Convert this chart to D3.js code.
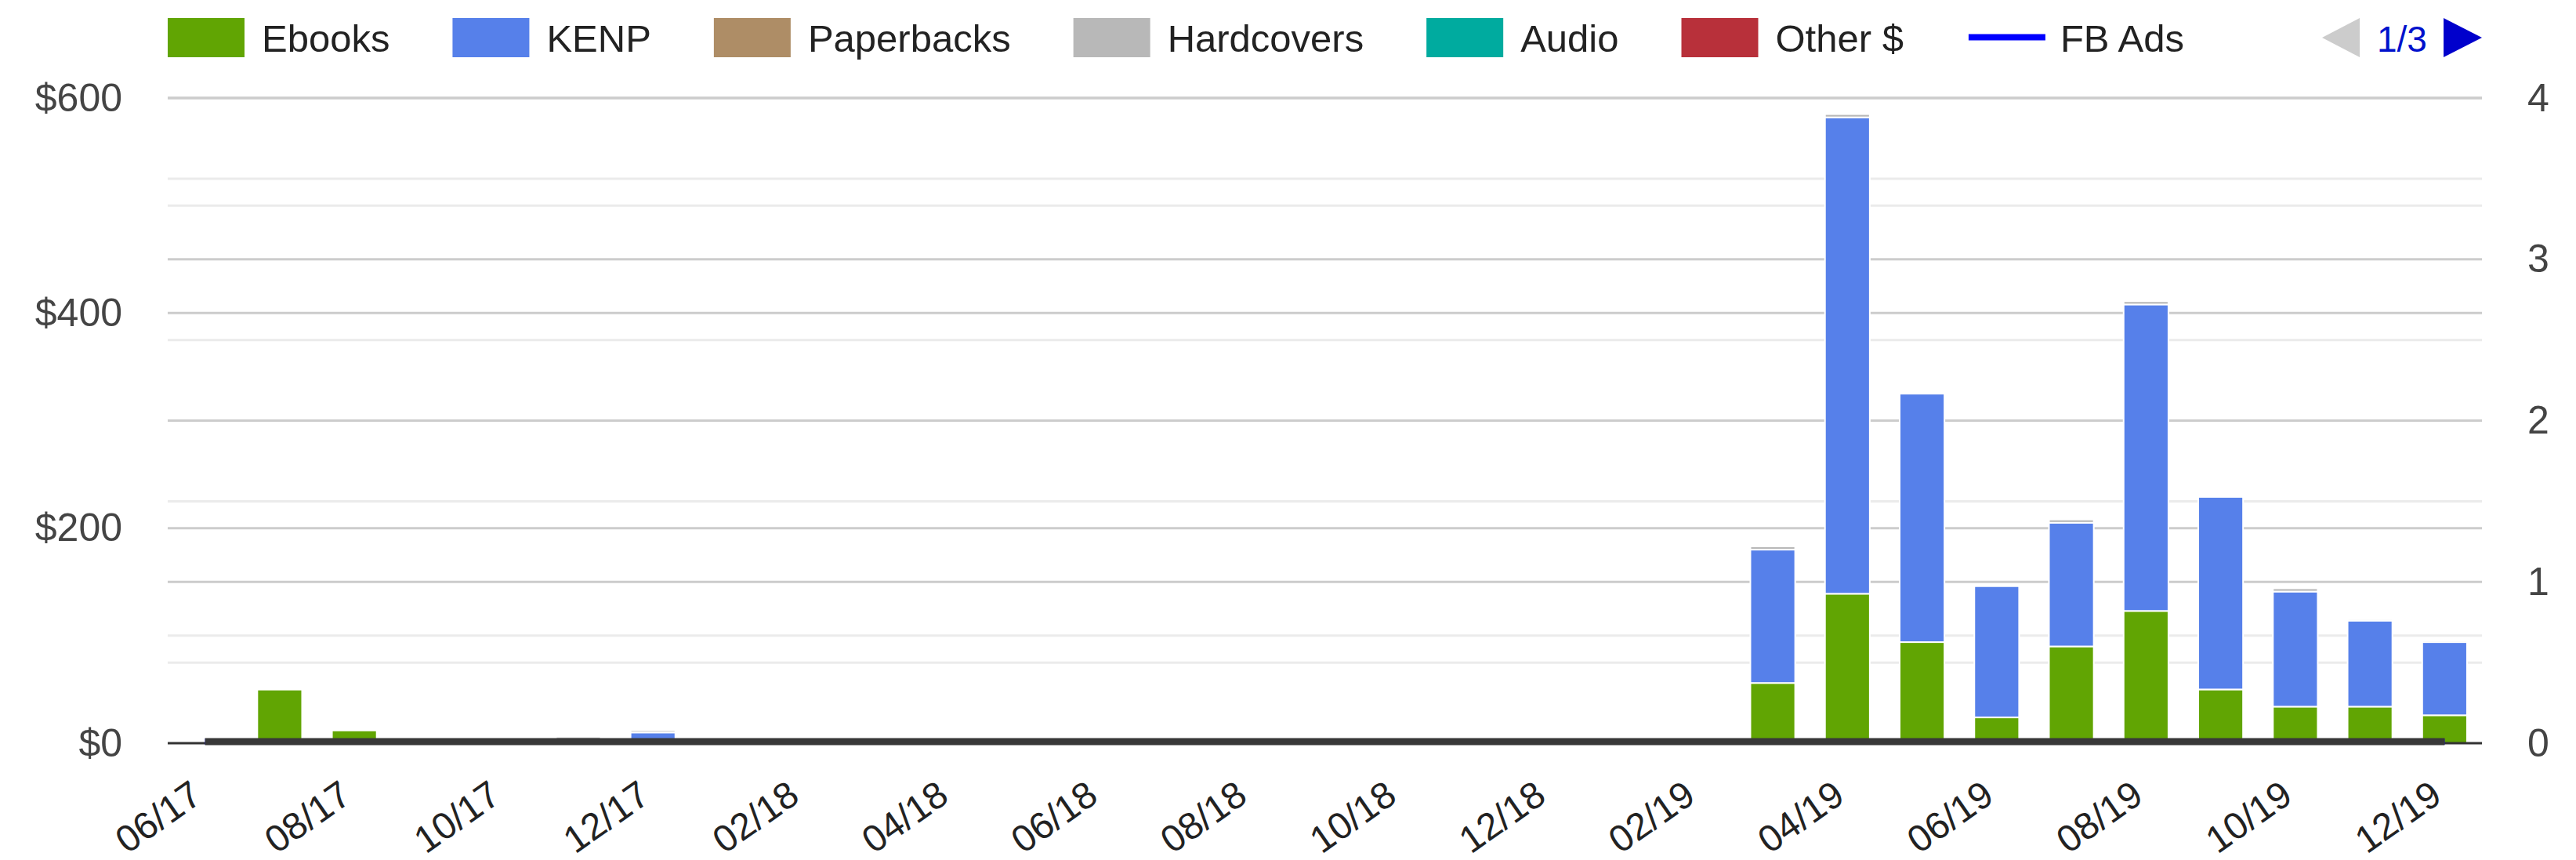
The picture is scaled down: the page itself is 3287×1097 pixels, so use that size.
<!DOCTYPE html>
<html>
<head>
<meta charset="utf-8">
<script src="https://cdn.jsdelivr.net/npm/d3@7"></script>
<style>
  html, body { margin: 0; padding: 0; background: #ffffff; }
  svg { display: block; font-family: "Liberation Sans", Arial, sans-serif; }
</style>
</head>
<body>
<svg id="chart" width="3287" height="1097"></svg>
<script>
// ---------- DATA ----------
const months = ["06/17","07/17","08/17","09/17","10/17","11/17","12/17",
  "01/18","02/18","03/18","04/18","05/18","06/18","07/18","08/18","09/18","10/18","11/18","12/18",
  "01/19","02/19","03/19","04/19","05/19","06/19","07/19","08/19","09/19","10/19","11/19","12/19"];
const tickLabels = ["06/17","08/17","10/17","12/17","02/18","04/18","06/18","08/18",
  "10/18","12/18","02/19","04/19","06/19","08/19","10/19","12/19"];
const ebooks     = [0,50,12,0,0,0,0, 0,0,0,0,0,0,0,0,0,0,0,0, 0,0,56,139,94,24,90,123,50,34,34,26];
const kenp       = [0,0,0,0,0,0,10, 0,0,0,0,0,0,0,0,0,0,0,0, 0,0,124,443,231,122,115,285,179,107,80,68];
const paperbacks = [0,0,0,0,0,0,0, 0,0,0,0,0,0,0,0,0,0,0,0, 0,0,0,0,0,0,0,0,0,0,0,0];
const hardcovers = [0,1,1,0,0,6,2, 0,0,0,0,0,0,0,0,0,0,0,0, 0,0,3,3,0,0,3,3,0,3,1.5,1.5];
const audio      = [0,0,0,0,0,0,0, 0,0,0,0,0,0,0,0,0,0,0,0, 0,0,0,0,0,0,0,0,0,0,0,0];
const otherSales = [0,0,0,0,0,0,0, 0,0,0,0,0,0,0,0,0,0,0,0, 0,0,0,0,0,0,0,0,0,0,0,0];
const fbAds      = [0,0,0,0,0,0,0, 0,0,0,0,0,0,0,0,0,0,0,0, 0,0,0,0,0,0,0,0,0,0,0,0];
const otherAds   = [0,0,0,0,0,0,0, 0,0,0,0,0,0,0,0,0,0,0,0, 0,0,0,0,0,0,0,0,0,0,0,0];

const barSeriesNames  = ["Ebooks","KENP","Paperbacks","Hardcovers","Audio","Other $"];
const barSeriesColors = ["#61a503","#5680ea","#ae8d66","#b8b8b8","#00ab9f","#b8303a"];
const barSeriesValues = [ebooks, kenp, paperbacks, hardcovers, audio, otherSales];

const leftTicks  = [0,200,400,600];
const leftMinor  = [100,300,500];
const rightTicks = [0,1,2,3,4];
const rightMinor = [0.5,1.5,2.5,3.5];

// ---------- LAYOUT ----------
const svg = d3.select("#chart");
const L = 214, R = 3167, T = 125, B = 948;

const x = d3.scaleBand().domain(months).range([L, R]).paddingInner(0.4).paddingOuter(0.2);
const xc = d => x(d) + x.bandwidth() / 2;
const yL = d3.scaleLinear().domain([0, 600]).range([B, T]);
const yR = d3.scaleLinear().domain([0, 4]).range([B, T]);

// gridlines
const grid = svg.append("g");
const minorLines = leftMinor.map(v => yL(v)).concat(rightMinor.map(v => yR(v)));
const majorLines = leftTicks.filter(v => v > 0).map(v => yL(v)).concat(rightTicks.filter(v => v > 0).map(v => yR(v)));
grid.selectAll("line.minor").data(minorLines).join("line")
  .attr("x1", L).attr("x2", R).attr("y1", d => d).attr("y2", d => d)
  .attr("stroke", "#ebebeb").attr("stroke-width", 3);
grid.selectAll("line.major").data(majorLines).join("line")
  .attr("x1", L).attr("x2", R).attr("y1", d => d).attr("y2", d => d)
  .attr("stroke", "#cccccc").attr("stroke-width", 3);

// stacked bars
const table = months.map((m, i) => {
  const row = { month: m };
  barSeriesNames.forEach((n, k) => row[n] = barSeriesValues[k][i]);
  return row;
});
const stacked = d3.stack().keys(barSeriesNames)(table);
const barsG = svg.append("g");
stacked.forEach((layer, k) => {
  barsG.append("g").attr("fill", barSeriesColors[k])
    .selectAll("rect").data(layer.filter(d => d[1] - d[0] > 0)).join("rect")
    .attr("x", d => x(d.data.month))
    .attr("width", x.bandwidth())
    .attr("y", d => yL(d[1]))
    .attr("height", d => yL(d[0]) - yL(d[1]))
    .attr("stroke", "#ffffff").attr("stroke-width", 2);
});

// baseline
svg.append("line").attr("x1", L).attr("x2", R).attr("y1", B).attr("y2", B)
  .attr("stroke", "#333333").attr("stroke-width", 3);

// ad lines (right axis)
const line = d3.line().x((d, i) => xc(months[i])).y(d => yR(d));
svg.append("path").datum(fbAds).attr("d", line).attr("fill", "none")
  .attr("stroke", "#0000ff").attr("stroke-width", 8).attr("transform", "translate(0,-2)");
svg.append("path").datum(otherAds).attr("d", line).attr("fill", "none")
  .attr("stroke", "#383838").attr("stroke-width", 9).attr("transform", "translate(0,-2)");

// axes
const axisFont = g => g.selectAll("text").attr("font-size", 50).attr("fill", "#444444")
  .attr("font-family", '"Liberation Sans", Arial, sans-serif');
const gl = svg.append("g").attr("transform", `translate(${L},0)`)
  .call(d3.axisLeft(yL).tickValues(leftTicks).tickFormat(d => "$" + d).tickSize(0).tickPadding(58));
gl.select(".domain").remove(); axisFont(gl);
const gr = svg.append("g").attr("transform", `translate(${R},0)`)
  .call(d3.axisRight(yR).tickValues(rightTicks).tickFormat(d3.format("d")).tickSize(0).tickPadding(58));
gr.select(".domain").remove(); axisFont(gr);

const gx = svg.append("g").attr("transform", `translate(0,${B})`)
  .call(d3.axisBottom(x).tickValues(tickLabels).tickSize(0));
gx.select(".domain").remove();
gx.selectAll("text")
  .attr("font-size", 48).attr("fill", "#222222")
  .attr("font-family", '"Liberation Sans", Arial, sans-serif')
  .attr("text-anchor", "end").attr("x", 0).attr("y", 0).attr("dy", 0)
  .attr("transform", "translate(-1,73) rotate(-35)");

// legend
const legend = svg.append("g");
let lx = L;
const legendItems = barSeriesNames.map((n, k) => ({ name: n, color: barSeriesColors[k], type: "box" }))
  .concat([{ name: "FB Ads", color: "#0000ff", type: "line" }]);
legendItems.forEach(item => {
  if (item.type === "box") {
    legend.append("rect").attr("x", lx).attr("y", 23).attr("width", 98).attr("height", 50).attr("fill", item.color);
  } else {
    legend.append("rect").attr("x", lx + 3).attr("y", 43.5).attr("width", 98).attr("height", 8).attr("fill", item.color);
  }
  const t = legend.append("text").attr("x", lx + 120).attr("y", 66)
    .attr("font-size", 49).attr("fill", "#222222").text(item.name);
  lx = lx + 120 + t.node().getComputedTextLength() + 80;
});

// pager
legend.append("path").attr("d", d3.line()([[3011, 23], [3011, 73], [2963, 48]]) + "Z").attr("fill", "#cccccc");
legend.append("text").attr("x", 3033).attr("y", 66).attr("font-size", 46).attr("fill", "#0011cc").text("1/3");
legend.append("path").attr("d", d3.line()([[3118, 23], [3118, 73], [3167, 48]]) + "Z").attr("fill", "#0000cc");
</script>
</body>
</html>
